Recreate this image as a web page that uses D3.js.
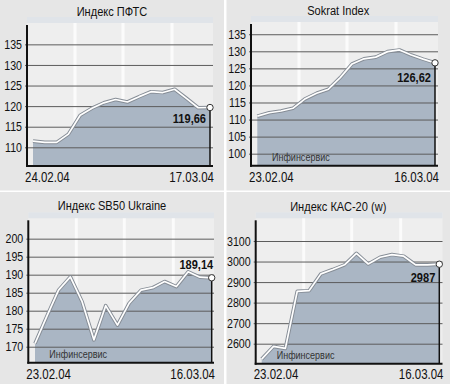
<!DOCTYPE html>
<html>
<head>
<meta charset="utf-8">
<script src="https://cdnjs.cloudflare.com/ajax/libs/d3/7.8.5/d3.min.js"></script>
<style>
  body { margin: 0; background: #fff; }
  svg text { font-family: "Liberation Sans", Arial, sans-serif; }
</style>
</head>
<body>
<div class="canvas"></div>
<script>
// data
const titles = ['Индекс ПФТС', 'Sokrat Index', 'Индекс SB50 Ukraine', 'Индекс КАС-20 (w)'];
const dateLabels = [['24.02.04', '17.03.04'], ['23.02.04', '16.03.04'], ['23.02.04', '16.03.04'], ['23.02.04', '16.03.04']];
const lastLabels = ['119,66', '126,62', '189,14', '2987'];
const source = 'Инфинсервис';

const pftsValues = [111.5, 111.2, 111.2, 113.2, 117.8, 119.5, 120.8, 121.6, 121.0, 122.3, 123.5, 123.3, 124.1, 121.9, 119.6, 119.66];
const sokratValues = [111.0, 112.0, 112.5, 113.3, 116.0, 117.7, 118.9, 122.3, 126.3, 127.8, 128.3, 129.9, 130.4, 128.9, 127.7, 126.62];
const sb50Values = [170.9, 178.4, 185.7, 189.4, 182.5, 171.9, 181.4, 176.0, 182.1, 185.7, 186.4, 188.1, 186.7, 190.8, 189.3, 189.14];
const kasValues = [2525, 2587, 2577, 2855, 2858, 2940, 2961, 2984, 3040, 2988, 3021, 3034, 3026, 2984, 2984, 2987];

const pftsTicks = [110, 115, 120, 125, 130, 135];
const sokratTicks = [100, 105, 110, 115, 120, 125, 130, 135];
const sb50Ticks = [170, 175, 180, 185, 190, 195, 200];
const kasTicks = [2600, 2700, 2800, 2900, 3000, 3100];

// layout of each panel (local coords)
const panels = [
  { ox: 0, oy: 0, w: 224, h: 190.5, values: pftsValues, ticks: pftsTicks,
    axisX: 27, right: 213, top: 25, bottom: 166, x0: 33, x1: 210,
    domain: [105.46, 139.7], titleY: 15.7, dateY: 182, labelPos: 'below', labelDy: 15, showSource: false },
  { ox: 226.5, oy: 0, w: 223.5, h: 190.5, values: sokratValues, ticks: sokratTicks,
    axisX: 24.5, right: 211.5, top: 24, bottom: 165.7, x0: 30.8, x1: 208.5,
    domain: [96.48, 138.0], titleY: 15.3, dateY: 181.7, labelPos: 'below', labelDy: 19, showSource: true },
  { ox: 0, oy: 192, w: 224, h: 192, values: sb50Values, ticks: sb50Ticks,
    axisX: 28.3, right: 214, top: 28.3, bottom: 170.7, x0: 35, x1: 211.7,
    domain: [165.56, 205.1], titleY: 18.3, dateY: 186.7, labelPos: 'above', labelDy: -9, showSource: true },
  { ox: 226.5, oy: 192, w: 223.5, h: 192, values: kasValues, ticks: kasTicks,
    axisX: 29.2, right: 216, top: 28.3, bottom: 171.7, x0: 35.2, x1: 212.8,
    domain: [2502.6, 3200.8], titleY: 19, dateY: 186.7, labelPos: 'below', labelDy: 17.5, showSource: true }
];

const narrowK = 0.82; // squeeze text like a narrow face

const svg = d3.select('.canvas')
  .append('svg')
    .attr('width', 450)
    .attr('height', 384);

svg.append('rect')
  .attr('width', 450).attr('height', 384)
  .attr('fill', '#fff');

// narrow text helper
const addText = (g, x, y, str, size, anchor, opts = {}) =>
  g.append('text')
    .attr('transform', `translate(${x},${y}) scale(${narrowK},1)`)
    .attr('text-anchor', anchor)
    .attr('font-size', size)
    .attr('font-weight', opts.bold ? 'bold' : 'normal')
    .attr('fill', opts.fill || '#111')
    .text(str);

panels.forEach((p, i) => {
  const g = svg.append('g')
    .attr('transform', `translate(${p.ox},${p.oy})`);

  g.append('rect')
    .attr('width', p.w).attr('height', p.h)
    .attr('fill', '#e6e6e6');

  // plot background with top band
  g.append('rect')
    .attr('x', p.axisX).attr('y', p.top - 8)
    .attr('width', p.right - p.axisX).attr('height', p.bottom - p.top + 8)
    .attr('fill', '#eeeeee');
  g.append('rect')
    .attr('x', p.axisX).attr('y', p.top - 8)
    .attr('width', p.right - p.axisX).attr('height', 6)
    .attr('fill', '#e0e4e9');

  // white vertical stripes
  [48, 96, 145].forEach(d => {
    g.append('rect')
      .attr('x', p.axisX + d - 1.5).attr('y', p.top - 2)
      .attr('width', 3).attr('height', p.bottom - p.top + 2)
      .attr('fill', '#fbfbfb');
  });

  const x = d3.scaleLinear()
    .domain([0, p.values.length - 1])
    .range([p.x0, p.x1]);
  const y = d3.scaleLinear()
    .domain(p.domain)
    .range([p.bottom, p.top]);

  const area = d3.area()
    .x((d, j) => x(j))
    .y0(p.bottom)
    .y1(d => y(d));
  const line = d3.line()
    .x((d, j) => x(j))
    .y(d => y(d));

  g.append('path')
    .attr('d', area(p.values))
    .attr('fill', '#aab6c4');

  // gridlines + tick labels
  const yAxis = d3.axisLeft(y)
    .tickValues(p.ticks)
    .tickSize(-(p.right - p.axisX) - 2)
    .tickFormat(d3.format('d'));
  const ax = g.append('g')
    .attr('transform', `translate(${p.axisX - 2},0)`)
    .call(yAxis);
  ax.select('.domain').remove();
  ax.selectAll('.tick line')
    .attr('stroke', '#5c5c5c')
    .attr('stroke-width', 1);
  ax.selectAll('.tick text')
    .attr('x', -3 / narrowK)
    .attr('transform', `scale(${narrowK},1)`)
    .attr('font-size', '13px')
    .attr('fill', '#111');

  if (p.showSource) {
    addText(g, p.axisX + 21, p.bottom - 4.5, source, '11px', 'start', { fill: '#333' });
  }

  // line with outline
  g.append('path')
    .attr('d', line(p.values))
    .attr('fill', 'none')
    .attr('stroke', '#868d96')
    .attr('stroke-width', 3.6)
    .attr('stroke-linejoin', 'round');
  g.append('path')
    .attr('d', line(p.values))
    .attr('fill', 'none')
    .attr('stroke', '#fff')
    .attr('stroke-width', 1.7)
    .attr('stroke-linejoin', 'round');

  // axes
  g.append('line')
    .attr('x1', p.axisX).attr('x2', p.axisX)
    .attr('y1', p.top).attr('y2', p.bottom + 1)
    .attr('stroke', '#111').attr('stroke-width', 2);
  g.append('line')
    .attr('x1', p.axisX - 1).attr('x2', p.right)
    .attr('y1', p.bottom).attr('y2', p.bottom)
    .attr('stroke', '#111').attr('stroke-width', 2);

  const last = p.values[p.values.length - 1];
  const lx = x(p.values.length - 1), ly = y(last);
  g.append('line')
    .attr('x1', lx).attr('x2', lx)
    .attr('y1', ly).attr('y2', p.bottom)
    .attr('stroke', '#111').attr('stroke-width', 1.5);
  g.append('circle')
    .attr('cx', lx).attr('cy', ly).attr('r', 3.2)
    .attr('fill', '#fff')
    .attr('stroke', '#333').attr('stroke-width', 1);

  addText(g, p.labelPos === 'above' ? lx + 1.5 : lx - 4, ly + p.labelDy,
    lastLabels[i], '13.5px', 'end', { bold: true });

  // title and dates
  addText(g, p.w / 2, p.titleY, titles[i], '13.5px', 'middle');
  addText(g, p.axisX - 2, p.dateY, dateLabels[i][0], '14px', 'start');
  addText(g, p.right + 1, p.dateY, dateLabels[i][1], '14px', 'end');
});
</script>
</body>
</html>
